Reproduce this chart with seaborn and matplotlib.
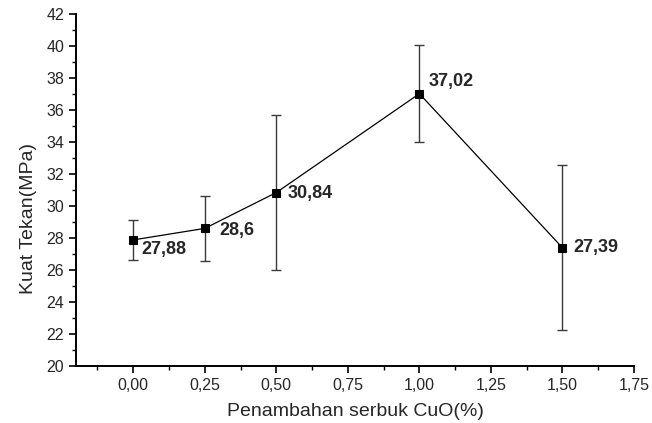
import matplotlib
matplotlib.use("Agg")
import matplotlib.pyplot as plt
import seaborn as sns
import pandas as pd
from matplotlib.ticker import MultipleLocator, FuncFormatter

cuo_percent = [0.0, 0.25, 0.5, 1.0, 1.5]
kuat_tekan = [27.88, 28.6, 30.84, 37.02, 27.39]
err = [1.24, 2.03, 4.87, 3.03, 5.16]
labels = ["27,88", "28,6", "30,84", "37,02", "27,39"]
label_offsets = [(8, -10), (15, -2), (11, -1), (9, 12), (11, 0)]

sns.set_style("ticks")
plt.rcParams['font.family'] = ['Liberation Sans', 'DejaVu Sans']

df = pd.DataFrame({"x": cuo_percent, "y": kuat_tekan})

fig = plt.figure(figsize=(6.52, 4.23), dpi=100)
ax = fig.add_axes([76/652, 1 - 366/423, (634 - 76)/652, (366 - 14)/423])

ax.errorbar(cuo_percent, kuat_tekan, yerr=err, fmt='none', ecolor='#3a3a3a',
            elinewidth=1.0, capsize=3.5, capthick=1.0, zorder=2)
sns.lineplot(data=df, x="x", y="y", ax=ax, color='black', linewidth=0.9,
             marker='s', markersize=6, markeredgecolor='black',
             markerfacecolor='black', zorder=3)

for xv, yv, lab, off in zip(cuo_percent, kuat_tekan, labels, label_offsets):
    ax.annotate(lab, (xv, yv), xytext=off, textcoords='offset pixels',
                ha='left', va='center', fontsize=13, fontweight='bold')

ax.set_xlim(-0.2, 1.75)
ax.set_ylim(20, 42)
ax.xaxis.set_major_locator(MultipleLocator(0.25))
ax.xaxis.set_minor_locator(MultipleLocator(0.125))
ax.yaxis.set_major_locator(MultipleLocator(2))
ax.yaxis.set_minor_locator(MultipleLocator(1))
ax.xaxis.set_major_formatter(FuncFormatter(lambda v, p: f"{v:.2f}".replace('.', ',')))
ax.yaxis.set_major_formatter(FuncFormatter(lambda v, p: f"{v:.0f}"))

ax.tick_params(axis='both', which='major', direction='out', length=5, width=1.2,
               labelsize=11.5, color='black')
ax.tick_params(axis='both', which='minor', direction='out', length=3, width=1.0,
               color='black')
ax.set_xticks([v for v in ax.get_xticks() if -0.2 <= v <= 1.75])

for s in ['top', 'right']:
    ax.spines[s].set_visible(False)
for s in ['left', 'bottom']:
    ax.spines[s].set_linewidth(1.4)
    ax.spines[s].set_color('black')

ax.set_xlabel("Penambahan serbuk CuO(%)", fontsize=14, labelpad=7)
ax.set_ylabel("Kuat Tekan(MPa)", fontsize=14)
ax.yaxis.set_label_coords(-0.07, 0.42)

fig.savefig("out.png", dpi=100)
